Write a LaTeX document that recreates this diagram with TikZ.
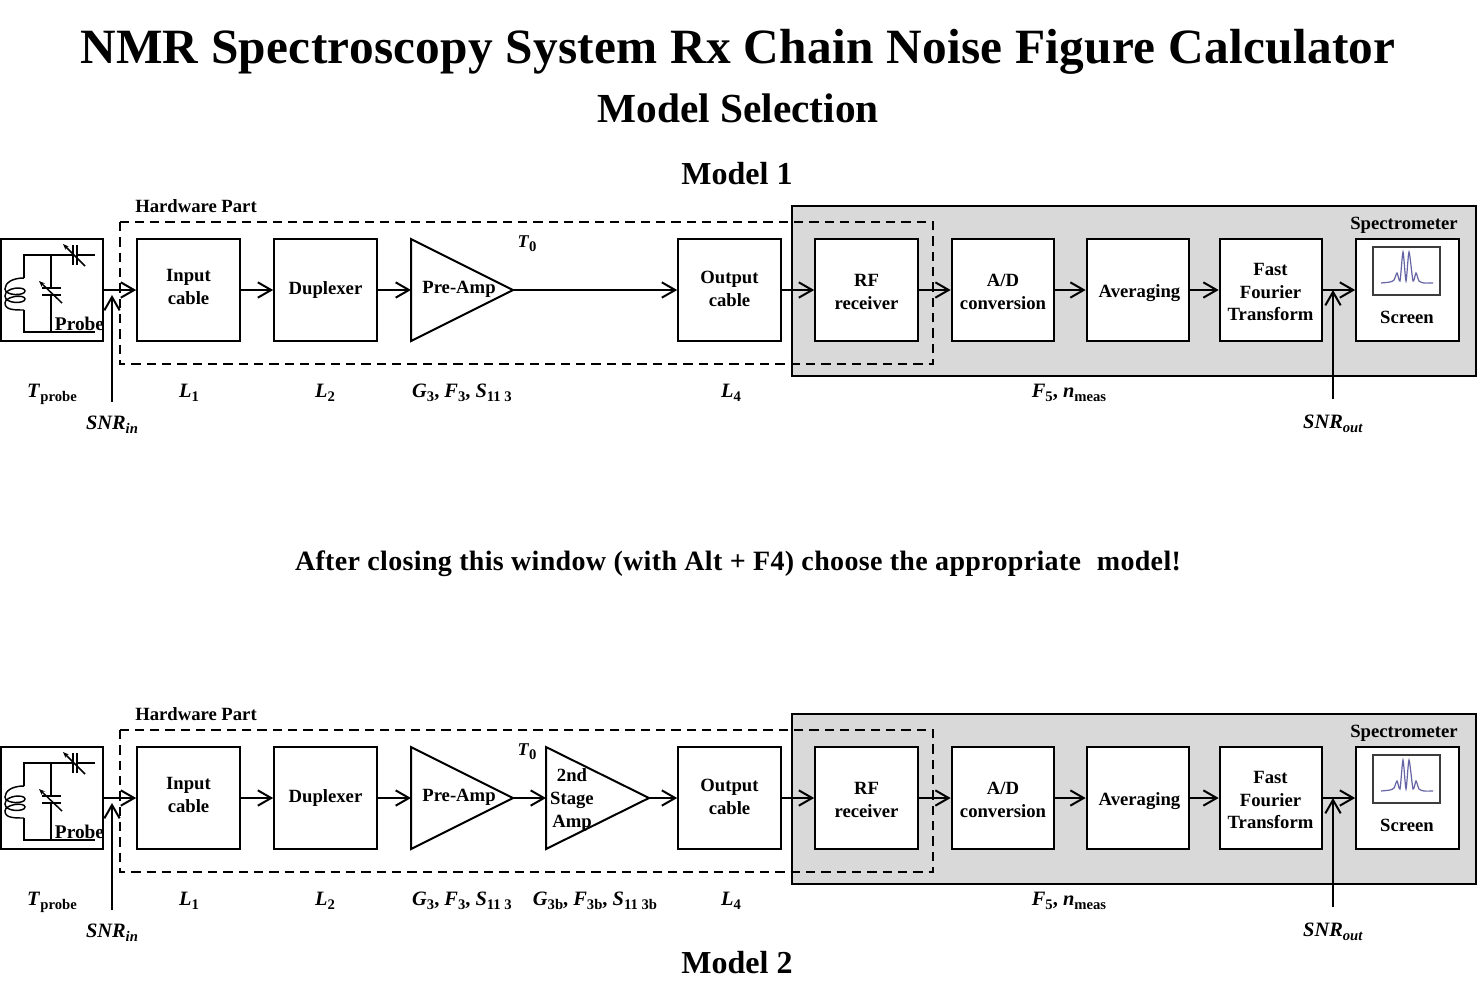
\documentclass[tikz,border=0pt]{standalone}
\usepackage{fontspec}
\setmainfont{Liberation Serif}
\usepackage{xcolor}
\usetikzlibrary{arrows.meta}
\definecolor{specgray}{RGB}{217,217,217}
\definecolor{specline}{RGB}{100,100,165}
\definecolor{screenframe}{RGB}{60,60,60}
\tikzset{
	blockbox/.style={draw, line width=1.5pt, fill=white, minimum width=77pt, minimum height=76.5pt, inner sep=0pt},
	ampbox/.style={draw, line width=1.5pt, fill=white, line join=miter},
	blocktext/.style={font=\bfseries\fontsize{14}{17}\selectfont, align=center, inner sep=0pt},
	paramtext/.style={font=\bfseries\fontsize{15.3}{18}\selectfont, inner sep=0pt},
	flow/.style={line width=1.5pt, -{Straight Barb[length=10pt, width=11.5pt, line width=1.5pt]}},
	hwpart/.style={dashed, dash pattern=on 7pt off 4.5pt, line width=1.2pt},
	wire/.style={line width=1.1pt},
	tune/.style={wire, -{Stealth[length=4.5pt, width=3.5pt]}},
}
\newcommand{\low}[1]{\raisebox{-.45ex}{\fontsize{11}{12}\selectfont #1}}
\newcommand{\rxchain}[2]{
	\begin{scope}[yshift=#2, name prefix=#1-]
		\draw[line width=1.5pt, fill=specgray] (792,206) rectangle (1476,376);
		\node[blockbox] (probe) at (52,290) {};
		\node[blockbox] (input) at (188.5,290) {};
		\node[blockbox] (duplexer) at (325.5,290) {};
		\draw[ampbox] (411,239) coordinate (preW) -- (513,290) coordinate (preE) -- (411,341) -- cycle;
		\node[blockbox] (output) at (729.5,290) {};
		\node[blockbox] (rf) at (866.5,290) {};
		\node[blockbox] (adc) at (1003,290) {};
		\node[blockbox] (avg) at (1138,290) {};
		\node[blockbox] (fft) at (1271,290) {};
		\node[blockbox] (screen) at (1407.5,290) {};
		\draw[hwpart] (120,222) rectangle (933,364);
		% probe circuit
		\draw[wire] (95,255) -- (77,255) (73,255) -- (24,255) -- (24,278);
		\draw[wire] (24,278) .. controls (12,278) and (5,283) .. (5,289) .. controls (5,296) and (25,296) .. (25,291)
			.. controls (25,286) and (5,287) .. (5,296) .. controls (5,304) and (25,304) .. (25,299)
			.. controls (25,294) and (5,296) .. (5,303) .. controls (5,310) and (14,310) .. (24,310);
		\draw[wire] (24,310) -- (24,332) -- (95,332);
		\draw[wire] (51,255) -- (51,288) (51,295) -- (51,332);
		\draw[wire] (42,288) -- (61,288) (42,295) -- (61,295);
		\draw[wire] (73,245) -- (73,265) (77,245) -- (77,265);
		\draw[tune] (62,303) -- (39,281);
		\draw[tune] (85,266) -- (63,244);
		% screen picture
		\draw[screenframe, line width=.9pt, fill=white] (1373,247) rectangle (1440,295);
		\draw[specline, line width=.9pt] plot[smooth, tension=.4] coordinates {(1381,283) (1390,282) (1394,280) (1397,273) (1400,281) (1403,252) (1406,281) (1409,252) (1413,281) (1416,273) (1419,281) (1424,283) (1433,283)};
		% texts
		\node[blocktext, font=\bfseries\fontsize{14.5}{15}\selectfont] (probelabel) at (79.5,324) {Probe};
		\node[blocktext] (inputlabel) at (188.5,287) {Input\\cable};
		\node[blocktext] (duplexerlabel) at (325.5,289.5) {Duplexer};
		\node[blocktext] (prelabel) at (459,289.5) {Pre-Amp};
		\node[blocktext] (outputlabel) at (729.5,289) {Output\\cable};
		\node[blocktext] (rflabel) at (866.5,292) {RF\\receiver};
		\node[blocktext] (adclabel) at (1003,292) {A/D\\conversion};
		\node[blocktext] (avglabel) at (1139.5,293.5) {Averaging};
		\node[blocktext] (fftlabel) at (1270.5,292) {Fast\\Fourier\\Transform};
		\node[blocktext] (screenlabel) at (1407,317) {Screen};
		\node[blocktext] (hwlabel) at (196,206.5) {Hardware Part};
		\node[blocktext] (speclabel) at (1404,225.5) {Spectrometer};
		\node[paramtext] (tprobe) at (52,394) {\textit{T}\low{probe}};
		\node[paramtext] (lone) at (189,393) {\textit{L}\low{1}};
		\node[paramtext] (ltwo) at (325,393) {\textit{L}\low{2}};
		\node[paramtext] (gthree) at (462,393) {\textit{G}\low{3}, \textit{F}\low{3}, \textit{S}\low{11 3}};
		\node[paramtext] (lfour) at (731,393) {\textit{L}\low{4}};
		\node[paramtext] (ffive) at (1069,393) {\textit{F}\low{5}, \textit{n}\low{meas}};
		\node[paramtext] (snrin) at (112,425) {\textit{SNR}\low{\textit{in}}};
		\node[paramtext] (snrout) at (1333,424) {\textit{SNR}\low{\textit{out}}};
		% connectors
		\coordinate (snrinfrom) at (112,402);
		\coordinate (snrinto) at (112,295);
		\coordinate (snroutfrom) at (1333,399);
		\coordinate (snroutto) at (1333,290);
		\draw[flow] (probe.east) -- (input.west);
		\draw[flow] (input.east) -- (duplexer.west);
		\draw[flow] (duplexer.east) -- (preW |- preE);
		\draw[flow] (output.east) -- (rf.west);
		\draw[flow] (rf.east) -- (adc.west);
		\draw[flow] (adc.east) -- (avg.west);
		\draw[flow] (avg.east) -- (fft.west);
		\draw[flow] (fft.east) -- (screen.west);
		\draw[flow] (snrinfrom) -- (snrinto);
		\draw[flow] (snroutfrom) -- (snroutto);
	\end{scope}
}

\begin{document}
\begin{tikzpicture}[x=.75pt, y=-.75pt]
	\useasboundingbox (0,0) rectangle (1477,1001);
	\node[inner sep=0pt, font=\bfseries\fontsize{37}{40}\selectfont\addfontfeatures{LetterSpace=.6}] (title) at (738,52) {NMR Spectroscopy System Rx Chain Noise Figure Calculator};
	\node[inner sep=0pt, font=\bfseries\fontsize{31}{34}\selectfont] (subtitle) at (738,108) {Model Selection};
	\node[inner sep=0pt, font=\bfseries\fontsize{24}{28}\selectfont] (modelone) at (737,174) {Model 1};
	\node[inner sep=0pt, font=\bfseries\fontsize{21}{24}\selectfont\addfontfeatures{LetterSpace=1.2}] (closing) at (738,564) {After closing this window (with Alt + F4) choose the appropriate\hspace{.3em} model!};
	\node[inner sep=0pt, font=\bfseries\fontsize{24}{28}\selectfont] (modeltwo) at (737,963) {Model 2};

	\rxchain{a}{0pt}
	\rxchain{b}{-381pt}

	% model 1 only
	\node[paramtext, font=\bfseries\fontsize{13.5}{16}\selectfont] (a-tzero) at (527,244) {\textit{T}\low{0}};
	\draw[flow] (a-preE) -- (a-output.west);

	% model 2 only
	\draw[ampbox] (546,747) coordinate (b-secW) -- (649,798) coordinate (b-secE) -- (546,849) -- cycle;
	\node[blocktext] (b-seclabel) at (572,800) {2nd\\Stage\\Amp};
	\node[paramtext, font=\bfseries\fontsize{13.5}{16}\selectfont] (b-tzero) at (527,752) {\textit{T}\low{0}};
	\node[paramtext] (b-gthree) at (595,901) {\textit{G}\low{3b}, \textit{F}\low{3b}, \textit{S}\low{11 3b}};
	\draw[flow] (b-preE) -- (b-secW |- b-secE);
	\draw[flow] (b-secE) -- (b-output.west);
\end{tikzpicture}
\end{document}
